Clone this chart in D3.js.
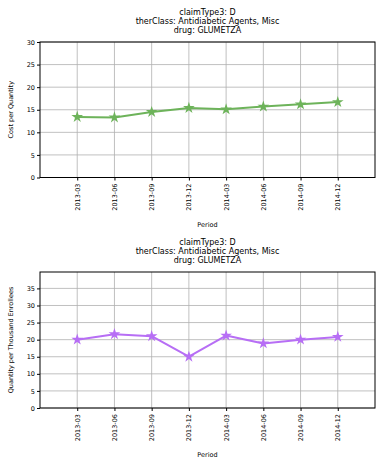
<!DOCTYPE html>
<html><head><meta charset="utf-8">
<script src="https://cdn.jsdelivr.net/npm/d3@7"></script>
<style>body{margin:0;background:#fff;} svg{display:block;font-family:"DejaVu Sans",sans-serif;}</style>
</head><body>
<svg id="c" width="385" height="470"></svg>
<script>
const periods = ["2013-03","2013-06","2013-09","2013-12","2014-03","2014-06","2014-09","2014-12"];
const costPerQuantity = [13.4, 13.3, 14.5, 15.4, 15.1, 15.7, 16.2, 16.7];
const qtyPerThousand = [20.0, 21.6, 21.0, 15.0, 21.2, 18.9, 20.0, 20.8];
const titleLines = ["claimType3: D","therClass: Antidiabetic Agents, Misc","drug: GLUMETZA"];
const yTicksTop = [0,5,10,15,20,25,30];
const yTicksBottom = [0,5,10,15,20,25,30,35];

const svg = d3.select("#c");

function panel(opts){
  const {top, bottom, ymax, ticks, data, color, ylabel, titleY} = opts;
  const left = 40, right = 375;
  const g = svg.append("g");
  const x = d3.scaleLinear().domain([-1, periods.length]).range([left, right]);
  const y = d3.scaleLinear().domain([0, ymax]).range([bottom, top]);
  // titles
  titleLines.forEach((t,i)=>{
    g.append("text").attr("x",(left+right)/2).attr("y",titleY + i*9)
     .attr("text-anchor","middle").attr("font-size",8).attr("fill","#000").text(t);
  });
  // grid
  g.append("g").selectAll("line").data(ticks).join("line")
    .attr("x1",left).attr("x2",right).attr("y1",d=>y(d)).attr("y2",d=>y(d))
    .attr("stroke","#b0b0b0").attr("stroke-width",0.8);
  g.append("g").selectAll("line").data(periods).join("line")
    .attr("x1",(d,i)=>x(i)).attr("x2",(d,i)=>x(i)).attr("y1",top).attr("y2",bottom)
    .attr("stroke","#b0b0b0").attr("stroke-width",0.8);
  // axes
  const ya = d3.axisLeft(y).tickValues(ticks).tickSize(3).tickPadding(2).tickFormat(d3.format("d"));
  const yg = g.append("g").attr("transform",`translate(${left},0)`).call(ya);
  yg.select(".domain").remove();
  yg.selectAll("text").attr("font-size",6.5).attr("font-family","DejaVu Sans").attr("fill","#000");
  const xa = d3.axisBottom(x).tickValues(d3.range(periods.length)).tickSize(3).tickFormat(i=>periods[i]);
  const xg = g.append("g").attr("transform",`translate(0,${bottom})`).call(xa);
  xg.select(".domain").remove();
  xg.selectAll("text").attr("font-size",6.5).attr("font-family","DejaVu Sans").attr("fill","#000")
    .attr("transform","rotate(-90)").attr("text-anchor","end").attr("x",-6).attr("y",0).attr("dy","0.32em");
  // frame
  g.append("rect").attr("x",left).attr("y",top).attr("width",right-left).attr("height",bottom-top)
    .attr("fill","none").attr("stroke","#000").attr("stroke-width",1);
  // axis labels
  g.append("text").attr("transform",`translate(13,${(top+bottom)/2}) rotate(-90)`)
    .attr("text-anchor","middle").attr("font-size",6.5).text(ylabel);
  g.append("text").attr("x",(left+right)/2).attr("y",bottom+49).attr("text-anchor","middle")
    .attr("font-size",6.5).text("Period");
  // line
  const line = d3.line().x((d,i)=>x(i)).y(d=>y(d));
  g.append("path").datum(data).attr("d",line).attr("fill","none").attr("stroke",color)
    .attr("stroke-width",2).attr("stroke-linejoin","round");
  const star = d3.symbol().type(d3.symbolStar).size(42);
  g.append("g").selectAll("path").data(data).join("path")
    .attr("transform",(d,i)=>`translate(${x(i)},${y(d)})`).attr("d",star()).attr("fill",color);
}

panel({top:42, bottom:177.5, ymax:30, ticks:yTicksTop, data:costPerQuantity, color:"#6db35a",
  ylabel:"Cost per Quantity", titleY:15});
panel({top:272, bottom:408, ymax:39.8, ticks:yTicksBottom, data:qtyPerThousand, color:"#b76ef5",
  ylabel:"Quantity per Thousand Enrollees", titleY:245});
</script>
</body></html>
